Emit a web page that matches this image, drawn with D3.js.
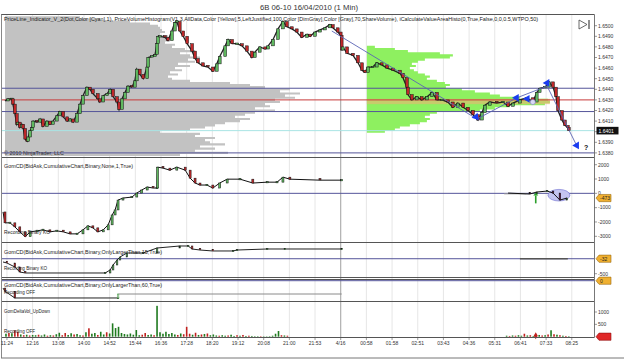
<!DOCTYPE html>
<html><head><meta charset="utf-8">
<script src="https://cdn.jsdelivr.net/npm/d3@7"></script>
<style>body{margin:0;background:#fff}svg{display:block;font-family:"Liberation Sans",Arial,sans-serif}</style>
</head><body><svg id="c" width="625" height="361"></svg>
<script>
// ---------------- DATA ----------------
const title = "6B 06-10  16/04/2010 (1 Min)";
const timeLabels = ["11:24","12:16","13:08","14:00","14:52","15:44","16:36","17:28","18:20","19:12","20:08","21:00","21:53","4/16","00:58","01:58","02:51","03:43","04:36","05:31","06:41","07:33","08:25"];
const timeTickIdx = [8,60,112,164,216,268,320,372,424,476,528,580,632,684,736,788,840,892,944,996,1048,1100,1152];
const sessionBreakIdx = 684;
const priceTicks = [1.6380,1.6390,1.6400,1.6410,1.6420,1.6430,1.6440,1.6450,1.6460,1.6470,1.6480,1.6490,1.6500];
const priceTickLabels = ["1.6380","1.6390","","1.6410","1.6420","1.6430","1.6440","1.6450","1.6460","1.6470","1.6480","1.6490","1.6500"];
const lastPrice = 1.6401;
const levelLines = [1.6441, 1.6419, 1.6380];
const pocLine = 1.6430;

const priceIdx = [4,10,18,20,24,28,30,34,38,41,45,49,51,55,59,61,69,75,81,89,95,101,109,115,122,130,136,142,150,156,162,170,176,182,192,196,203,211,217,223,231,235,241,247,253,261,267,271,277,284,292,294,302,308,312,314,318,328,334,342,348,352,358,365,373,383,389,395,405,415,425,433,439,450,456,464,474,484,494,504,510,520,531,537,547,557,567,575,585,595,605,616,622,632,642,652,662,668,678,684,686,688,697,709,719,727,733,739,749,757,767,778,790,804,810,818,820,828,838,848,859,869,879,889,901,911,921,932,942,952,962,970,976,986,1000,1013,1023,1033,1047,1061,1073,1081,1087,1098,1106,1114,1120,1124,1132,1138,1144,1146];
const priceClose = [1.6429,1.6431,1.6431,1.6426,1.6417,1.6407,1.6409,1.6404,1.6407,1.6403,1.6393,1.6391,1.6395,1.6401,1.6404,1.6410,1.6409,1.6412,1.6405,1.6410,1.6407,1.6410,1.6415,1.6419,1.6414,1.6410,1.6412,1.6409,1.6417,1.6426,1.6434,1.6442,1.6440,1.6436,1.6431,1.6428,1.6434,1.6436,1.6440,1.6433,1.6428,1.6421,1.6431,1.6437,1.6443,1.6442,1.6448,1.6459,1.6454,1.6450,1.6461,1.6470,1.6471,1.6473,1.6483,1.6490,1.6490,1.6489,1.6486,1.6495,1.6503,1.6504,1.6495,1.6490,1.6483,1.6476,1.6469,1.6465,1.6462,1.6461,1.6457,1.6464,1.6471,1.6481,1.6487,1.6483,1.6483,1.6481,1.6476,1.6470,1.6475,1.6480,1.6478,1.6481,1.6487,1.6497,1.6504,1.6499,1.6497,1.6494,1.6489,1.6492,1.6490,1.6494,1.6496,1.6498,1.6501,1.6498,1.6494,1.6491,1.6477,1.6480,1.6474,1.6472,1.6465,1.6458,1.6456,1.6461,1.6461,1.6465,1.6463,1.6460,1.6458,1.6455,1.6451,1.6442,1.6435,1.6430,1.6433,1.6430,1.6433,1.6437,1.6430,1.6430,1.6428,1.6423,1.6427,1.6423,1.6420,1.6416,1.6411,1.6418,1.6425,1.6428,1.6427,1.6428,1.6424,1.6427,1.6430,1.6432,1.6428,1.6437,1.6441,1.6442,1.6447,1.6442,1.6433,1.6420,1.6411,1.6406,1.6404,1.6401];

// all-data volume profile (gray), levels from 1.6508 downward, step 0.0002
const grayProfileTop = 1.6508;
const grayProfileVol = [75,95,125,145,153,155,157,160,155,163,167,165,160,170,167,180,190,175,185,195,183,190,173,185,170,177,165,173,163,167,185,225,245,260,285,275,295,280,290,270,275,260,265,250,270,250,240,230,245,235,220,210,200,185,155,195,190,210,200,205,220,195,210,190,223,175];
// session value-area histogram (green), levels from 1.6480 downward, step 0.0002
const greenProfileTop = 1.6480;
const greenProfileStartIdx = 737;
const greenProfileVol = [8,28,41,73,86,83,58,51,45,49,43,47,51,58,63,60,70,78,83,79,95,108,123,133,153,181,183,178,143,128,113,70,63,58,63,60,53,43,33,28,18];
const valueAreaBand = [1.6431, 1.6426];

// zigzag
const zigIdx = [666, 960, 1041, 1102, 1164];
const zigVal = [1.6495, 1.6412, 1.6432, 1.6443, 1.6385];
const markerIdx = [958, 1040, 1062, 1102, 1162];
const markerVal = [1.6414, 1.6432, 1.6431, 1.6446, 1.6387];
const markerRot = [140, -90, -90, -90, 150];

// GomCD panels
const cd1Idx = [0,4,14,24,34,45,55,69,81,95,109,122,136,150,162,172,182,192,203,213,221,227,233,243,261,271,281,292,304,312,313,324,338,352,369,379,389,399,413,425,439,454,480,506,535,555,567,581,642,686];
const cd1Val = [-1300,-2060,-2060,-2340,-2690,-3030,-2690,-2620,-2550,-2690,-2620,-2690,-2830,-2830,-2550,-2270,-2410,-2690,-2550,-2200,-1510,-1160,-470,-330,-260,20,230,440,370,370,1830,1760,1620,1830,1620,1060,720,580,580,370,720,990,990,720,780,780,1130,990,920,920];
const cd1bIdx = [1023,1067,1081,1102,1114,1128,1142];
const cd1bVal = [20,-50,90,160,20,-470,-330];
const cd1Ticks = [2000,1000,0,-1000,-2000,-3000];
const cd1Tag = "-473";

const cd2Idx = [0,8,24,34,45,207,217,223,231,237,251,284,312,358,375,383,399,425,466,474,535,571,686];
const cd2Val = [-134,-166,-290,-447,-478,-478,-384,-228,-72,22,147,147,303,366,366,272,240,210,210,240,272,272,272];
const cd2bIdx = [1047,1095,1144];
const cd2bVal = [-32,-32,-32];
const cd2Ticks = [-500];
const cd2Tag = "-32";

const cd3Idx = [0,4,24,233,234,686];
const cd3Val = [-230,-330,-540,-540,-416,-416];
const cd3Tag = "0";

// delta volume (bins of 6 one-minute bars; + = up/green, - = down/red)
const dvBinBars = 6;
const deltaVolA = [0,120,-150,140,-260,-200,90,-60,80,-50,70,60,-80,50,90,-40,60,-50,100,160,-60,-150,70,140,-90,110,60,-50,180,-340,120,150,-70,200,90,-180,130,540,350,400,150,110,90,130,80,270,60,-80,-150,70,90,-60,1250,180,120,200,110,150,90,-70,130,-100,-400,-120,80,-160,70,-90,110,-130,60,90,50,-40,60,40,-50,80,30,-60,40,-70,30,-40,30,20,20,-20,15,15,20,40,120,230,-60,50,-40];
const deltaVolAStartBin = 0;
const deltaVolB = [40,-30,50,-40,60,40,-120,50,-60,30,-40,70,-50,60,-90,260,-100,80,-60,40,-30,20];
const deltaVolBStartBin = 170;
const dvTicks = [1000, 500];

const panelTexts = [
  {t:"GomCD(BidAsk,CumulativeChart,Binary,None,1,True)", y:168, w:129},
  {t:"Recording Binary KO", y:234, w:46},
  {t:"GomCD(BidAsk,CumulativeChart,Binary,OnlyLargerThan,15,True)", y:253.5, w:158},
  {t:"Recording Binary KO", y:269.5, w:43},
  {t:"GomCD(BidAsk,CumulativeChart,Binary,OnlyLargerThan,60,True)", y:287, w:158},
  {t:"Recording OFF", y:293.5, w:31},
  {t:"GomDeltaVol_UpDown", y:312.5, w:46},
  {t:"Recording OFF", y:333, w:31}
];
const mainText = "PriceLine_Indicator_V_2(Dot,Color [Cyan],1), PriceVolumeHistogram(V1.3,AllData,Color [Yellow],5,LeftJustified,100,Color [DimGray],Color [Gray],70,ShareVolume), iCalculateValueAreaHisto(0,True,False,0,0,0.5,WTPO,50)";

// ---------------- DRAW ----------------
const svg = d3.select("#c");
const L = 2, R = 594.5;
const x = d3.scaleLinear().domain([0, 1197]).range([3, 594]);
const yP = d3.scaleLinear().domain([1.6380, 1.6500]).range([152.9, 25.7]);
const y1 = d3.scaleLinear().domain([-3000, 2000]).range([236.3, 164.7]);
const y2 = d3.scaleLinear().domain([-500, 0]).range([273.7, 257.7]);
const y3 = d3.scaleLinear().domain([-500, 0]).range([296.7, 280.7]);
const y4 = d3.scaleLinear().domain([0, 1000]).range([336.7, 312]);
const hv = d3.scaleLinear().domain([0, 100]).range([0, 100]);

const GREEN = "#5fb85f", RED = "#c0282a", PURPLE = "#55559a";

// title
svg.append("text").attr("x", 260).attr("y", 9.5).attr("font-size", 7.2).attr("fill", "#333")
  .attr("textLength", 98).attr("lengthAdjust", "spacingAndGlyphs").text(title);

// vertical grid
const grid = svg.append("g");
timeTickIdx.forEach(i => {
  grid.append("line").attr("x1", x(i)).attr("x2", x(i)).attr("y1", 15).attr("y2", 337)
    .attr("stroke", "#e6e6e6").attr("stroke-width", 1);
});
grid.append("line").attr("x1", x(sessionBreakIdx)).attr("x2", x(sessionBreakIdx)).attr("y1", 15).attr("y2", 337)
  .attr("stroke", "#a8a8a8").attr("stroke-width", 1);

// profiles drawn as one stepped polygon each (no gaps between levels)
function profile(g, top, vols, x0, fill) {
  const yTop = yP(top + 0.0001);
  let d = `M${x0},${yTop}`;
  vols.forEach((v, k) => {
    const p = top - k * 0.0002;
    d += ` L${x0 + hv(v)},${yP(p + 0.0001)} L${x0 + hv(v)},${yP(p - 0.0001)}`;
  });
  d += ` L${x0},${yP(top - (vols.length - 1) * 0.0002 - 0.0001)} Z`;
  g.append("path").attr("d", d).attr("fill", fill);
}
profile(svg.append("g"), grayProfileTop, grayProfileVol, 5, "#c2c2c2");
const gr = svg.append("g");
profile(gr, greenProfileTop, greenProfileVol, x(greenProfileStartIdx), "#8ef060");
gr.append("rect").attr("x", x(greenProfileStartIdx)).attr("y", yP(valueAreaBand[0]))
  .attr("width", hv(d3.max(greenProfileVol))).attr("height", yP(valueAreaBand[1]) - yP(valueAreaBand[0]))
  .attr("fill", "#d8c070").attr("opacity", 0.75);

// horizontal level lines
levelLines.forEach(p => svg.append("line").attr("x1", L).attr("x2", R).attr("y1", yP(p)).attr("y2", yP(p))
  .attr("stroke", PURPLE).attr("stroke-width", 1));
svg.append("line").attr("x1", L).attr("x2", R).attr("y1", yP(pocLine)).attr("y2", yP(pocLine))
  .attr("stroke", "#c83a3a").attr("stroke-width", 1);
svg.append("line").attr("x1", L).attr("x2", R).attr("y1", yP(lastPrice)).attr("y2", yP(lastPrice))
  .attr("stroke", "#a8e4e4").attr("stroke-width", 1);

// candles helper
function drawCandles(g, idx, val, ys, w, lineColor, up, down, lw) {
  const pts = idx.map((d, i) => [x(d), ys(val[i])]);
  g.append("path").attr("d", d3.line()(pts)).attr("fill", "none").attr("stroke", lineColor).attr("stroke-width", lw || 1);
  for (let i = 1; i < idx.length; i++) {
    const a = ys(val[i - 1]), b = ys(val[i]);
    const top = Math.min(a, b), h = Math.max(1.4, Math.abs(a - b));
    g.append("rect").attr("x", x(idx[i]) - w / 2).attr("y", top - (h === 1.4 ? 0.7 : 0)).attr("width", w).attr("height", h)
      .attr("fill", b <= a ? up : down).attr("stroke", "#111").attr("stroke-width", 0.5);
  }
}

// main text
svg.append("text").attr("x", 4).attr("y", 20.8).attr("font-size", 5).attr("fill", "#222")
  .attr("textLength", 534).attr("lengthAdjust", "spacingAndGlyphs").text(mainText);

// price candles
drawCandles(svg.append("g"), priceIdx, priceClose, yP, 2.8, "#222", GREEN, RED, 1.3);

// zigzag
const zz = svg.append("g");
zz.append("path").attr("d", d3.line()(zigIdx.map((d, i) => [x(d), yP(zigVal[i])])))
  .attr("fill", "none").attr("stroke", "#5a64b4").attr("stroke-width", 0.9);
zz.append("circle").attr("cx", x(1073)).attr("cy", yP(1.6428)).attr("r", 2.6)
  .attr("fill", "#d8d8f4").attr("stroke", "#7a7ac4").attr("stroke-width", 0.6);
markerIdx.forEach((d, i) => {
  zz.append("path").attr("d", d3.symbol(d3.symbolTriangle, 26)())
    .attr("transform", `translate(${x(d)},${yP(markerVal[i])}) rotate(${markerRot[i]})`)
    .attr("fill", "#1a3cf0");
});
svg.append("text").attr("x", 584).attr("y", 150).attr("font-size", 7).attr("font-weight", "bold").attr("fill", "#111").text("?");
svg.append("text").attr("x", 4).attr("y", 154.5).attr("font-size", 5).attr("fill", "#333")
  .attr("textLength", 60).attr("lengthAdjust", "spacingAndGlyphs").text("© 2010 NinjaTrader, LLC");

// play icon
svg.append("path").attr("d", "M579,20 L587,24.5 L579,29 Z").attr("fill", "none").attr("stroke", "#444").attr("stroke-width", 0.8);
svg.append("line").attr("x1", 589).attr("x2", 589).attr("y1", 20).attr("y2", 29).attr("stroke", "#444").attr("stroke-width", 1.2);

// panel 1 zero line and series
svg.append("line").attr("x1", L).attr("x2", R).attr("y1", y1(0)).attr("y2", y1(0)).attr("stroke", PURPLE);
drawCandles(svg.append("g"), cd1Idx, cd1Val, y1, 2, "#111", GREEN, RED);
svg.append("line").attr("x1", x(1015)).attr("x2", x(1060)).attr("y1", y1(0) + 0.5).attr("y2", y1(0) + 0.5).attr("stroke", "#999");
svg.append("ellipse").attr("cx", x(1126)).attr("cy", y1(-130)).attr("rx", 11).attr("ry", 5.8)
  .attr("fill", "#c4c4f0").attr("stroke", "#6c6cd0").attr("stroke-width", 0.6);
drawCandles(svg.append("g"), cd1bIdx, cd1bVal, y1, 1.6, "#111", GREEN, "#5a1040");
// green arrow
svg.append("rect").attr("x", x(1079) - 0.8).attr("y", y1(-150)).attr("width", 1.6).attr("height", y1(-700) - y1(-150)).attr("fill", "#2ca02c");
svg.append("path").attr("d", `M${x(1079) - 2.5},${y1(-150)} L${x(1079)},${y1(40)} L${x(1079) + 2.5},${y1(-150)} Z`).attr("fill", "#2ca02c");

// panel 2
svg.append("line").attr("x1", L).attr("x2", R).attr("y1", y2(-32)).attr("y2", y2(-32)).attr("stroke", PURPLE);
drawCandles(svg.append("g"), cd2Idx, cd2Val, y2, 1.6, "#222", GREEN, RED);
svg.append("path").attr("d", d3.line()(cd2bIdx.map((d, i) => [x(d), y2(cd2bVal[i])]))).attr("stroke", "#555").attr("stroke-width", 1.4).attr("fill", "none");

// panel 3
svg.append("line").attr("x1", L).attr("x2", R).attr("y1", y3(0)).attr("y2", y3(0)).attr("stroke", PURPLE);
drawCandles(svg.append("g"), cd3Idx.slice(0, 4), cd3Val.slice(0, 4), y3, 1.6, "#222", GREEN, RED);
svg.append("path").attr("d", d3.line()(cd3Idx.slice(3).map((d, i) => [x(d), y3(cd3Val[i + 3])]))).attr("stroke", "#8a8a8a").attr("stroke-width", 1).attr("fill", "none");
svg.append("rect").attr("x", x(cd3Idx[3]) - 0.8).attr("y", y3(-416)).attr("width", 1.6).attr("height", y3(-540) - y3(-416)).attr("fill", "#fff").attr("stroke", "#2a8a2a").attr("stroke-width", 0.5);

// panel 4 delta volume bars
const dv = svg.append("g");
function dvBars(arr, startBin) {
  arr.forEach((v, k) => {
    if (!v) return;
    const xi = x((startBin + k) * dvBinBars);
    dv.append("rect").attr("x", xi - 0.8).attr("y", y4(Math.abs(v))).attr("width", 1.6).attr("height", y4(0) - y4(Math.abs(v)))
      .attr("fill", v > 0 ? "#1f7a1f" : "#c0201e");
  });
}
dvBars(deltaVolA, deltaVolAStartBin);
dvBars(deltaVolB, deltaVolBStartBin);
dv.append("path").attr("d", d3.symbol(d3.symbolDiamond, 14)()).attr("transform", `translate(${x(1079)},${y4(0) - 1})`).attr("fill", "#c0201e");

// panel texts
panelTexts.forEach(p => svg.append("text").attr("x", 4).attr("y", p.y).attr("font-size", 5).attr("fill", "#222")
  .attr("textLength", p.w).attr("lengthAdjust", "spacingAndGlyphs").text(p.t));

// panel frames
const frame = svg.append("g").attr("stroke", "#555").attr("stroke-width", 1);
[14.5, 157.5, 242.5, 277.5, 279.5, 301.5, 337.5].forEach(yy =>
  frame.append("line").attr("x1", 1).attr("x2", R).attr("y1", yy).attr("y2", yy));
frame.append("line").attr("x1", 1.5).attr("x2", 1.5).attr("y1", 14.5).attr("y2", 358).attr("stroke", "#888");
frame.append("line").attr("x1", R).attr("x2", R).attr("y1", 14.5).attr("y2", 337.5).attr("stroke", "#777");
frame.append("line").attr("x1", 1).attr("x2", 624).attr("y1", 358).attr("y2", 358).attr("stroke", "#777");

// right axes
const ax = svg.append("g").attr("font-size", 5).attr("fill", "#333");
function rightTicks(vals, labels, ys) {
  vals.forEach((v, i) => {
    ax.append("line").attr("x1", R).attr("x2", R + 2.5).attr("y1", ys(v)).attr("y2", ys(v)).attr("stroke", "#555").attr("stroke-width", 0.6);
    if (labels[i]) ax.append("text").attr("x", R + 3.5).attr("y", ys(v) + 1.8).text(labels[i]);
  });
}
rightTicks(priceTicks, priceTickLabels, yP);
rightTicks(cd1Ticks, cd1Ticks.map(String), y1);
rightTicks(cd2Ticks, cd2Ticks.map(String), y2);
rightTicks(dvTicks, dvTicks.map(String), y4);

function tag(yy, label, fill, stroke, txt) {
  const x0 = R + 1.5, w = 15;
  ax.append("path").attr("d", `M${x0},${yy} L${x0 + 3},${yy - 3.6} L${x0 + w},${yy - 3.6} L${x0 + w},${yy + 3.6} L${x0 + 3},${yy + 3.6} Z`)
    .attr("fill", fill).attr("stroke", stroke).attr("stroke-width", 0.6);
  ax.append("text").attr("x", x0 + 4).attr("y", yy + 1.9).attr("fill", txt).text(label);
}
// last price tag
ax.append("rect").attr("x", R + 2).attr("y", yP(lastPrice) - 3.8).attr("width", 22).attr("height", 7.6).attr("fill", "#111");
ax.append("text").attr("x", R + 4).attr("y", yP(lastPrice) + 1.9).attr("fill", "#fff").text(lastPrice.toFixed(4));
tag(y1(cd1bVal[cd1bVal.length - 1]), cd1Tag, "#f0b030", "#9a6a10", "#222");
tag(y2(-32), cd2Tag, "#f0b030", "#9a6a10", "#222");
tag(y3(0), cd3Tag, "#f0b030", "#9a6a10", "#222");
tag(y4(0), "", "#e02828", "#901010", "#fff");

// time axis
const tx = svg.append("g").attr("font-size", 5).attr("fill", "#333");
timeTickIdx.forEach((i, k) => {
  tx.append("line").attr("x1", x(i)).attr("x2", x(i)).attr("y1", 337.5).attr("y2", 340).attr("stroke", "#555").attr("stroke-width", 0.6);
  tx.append("text").attr("x", x(i)).attr("y", 345).attr("text-anchor", "middle").text(timeLabels[k]);
});
</script></body></html>
